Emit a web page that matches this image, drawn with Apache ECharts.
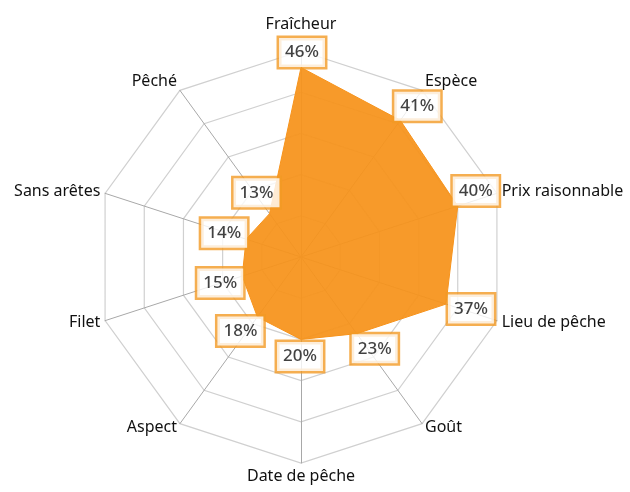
<!DOCTYPE html>
<html>
<head>
<meta charset="utf-8">
<script src="https://cdn.jsdelivr.net/npm/echarts@6/dist/echarts.min.js"></script>
<style>
  html, body { margin: 0; padding: 0; background: #fff; }
  #chart { width: 630px; height: 492px; }
</style>
</head>
<body>
<div id="chart"></div>
<script>
  // ===== 数据 =====
  const categories = ["Fraîcheur", "Espèce", "Prix raisonnable", "Lieu de pêche", "Goût",
    "Date de pêche", "Aspect", "Filet", "Sans arêtes", "Pêché"];
  const values = [46, 41, 40, 37, 23, 20, 18, 15, 14, 13];
  const axisMax = 50;

  // 标签偏移(像素),相对于各顶点
  const labelOffsets = [[1, -15], [17, -14], [18, -15], [25, 5], [18, 15],
    [-1, 17], [-17, 14], [-22, 7], [-22, -6], [-13, -21]];

  const ORANGE = "#F7941D";
  const CX = 301, CY = 257, R = 206;
  const FONT = "Noto Sans";

  // 雷达图默认逆时针排列,这里调整顺序使其顺时针
  const order = [0].concat(categories.map((_, i) => i).slice(1).reverse());

  const chart = echarts.init(document.getElementById("chart"));

  chart.setOption({
    animation: false,
    radar: {
      center: [CX, CY],
      radius: R,
      startAngle: 90,
      splitNumber: 5,
      shape: "polygon",
      indicator: order.map(i => ({ name: categories[i], max: axisMax, min: 0 })),
      nameGap: 5,
      axisName: {
        color: "#111",
        fontFamily: FONT,
        fontSize: 16,
        formatter: (name) => {
          if (name === "Fraîcheur") return `{top|${name}}`;
          if (name === "Espèce" || name === "Pêché") return `{up|${name}}`;
          return `{n|${name}}`;
        },
        rich: {
          top: { fontFamily: FONT, fontSize: 16, color: "#111", padding: [0, 0, 14, 0] },
          up: { fontFamily: FONT, fontSize: 16, color: "#111", padding: [0, 0, 10, 0] },
          n: { fontFamily: FONT, fontSize: 16, color: "#111" },
        },
      },
      axisLine: { lineStyle: { color: "#a8a8a8", width: 1 } },
      splitLine: { lineStyle: { color: "#d0d0d0", width: 1.2 } },
      splitArea: { show: false },
    },
    polar: { center: [CX, CY], radius: R },
    angleAxis: { type: "value", min: 0, max: 360, startAngle: 90, clockwise: true, show: false },
    radiusAxis: { type: "value", min: 0, max: axisMax, show: false },
    series: [
      {
        type: "radar",
        symbol: "none",
        lineStyle: { color: ORANGE, width: 1 },
        areaStyle: { color: ORANGE, opacity: 0.94 },
        data: [{ value: order.map(i => values[i]) }],
      },
      {
        type: "scatter",
        coordinateSystem: "polar",
        symbolSize: 1,
        itemStyle: { color: "rgba(0,0,0,0)" },
        z: 10,
        data: values.map((v, i) => ({
          value: [v, i * 360 / categories.length],
          label: { offset: labelOffsets[i] },
        })),
        label: {
          show: true,
          position: "inside",
          formatter: p => p.value[0] + "%",
          fontFamily: FONT,
          fontSize: 17,
          fontWeight: 500,
          color: "#111",
          textBorderWidth: 0,
          backgroundColor: "#fff",
          borderColor: "#F39A24",
          borderWidth: 2.5,
          padding: [7, 6, 5, 6],
        },
      },
    ],
  });
</script>
</body>
</html>
